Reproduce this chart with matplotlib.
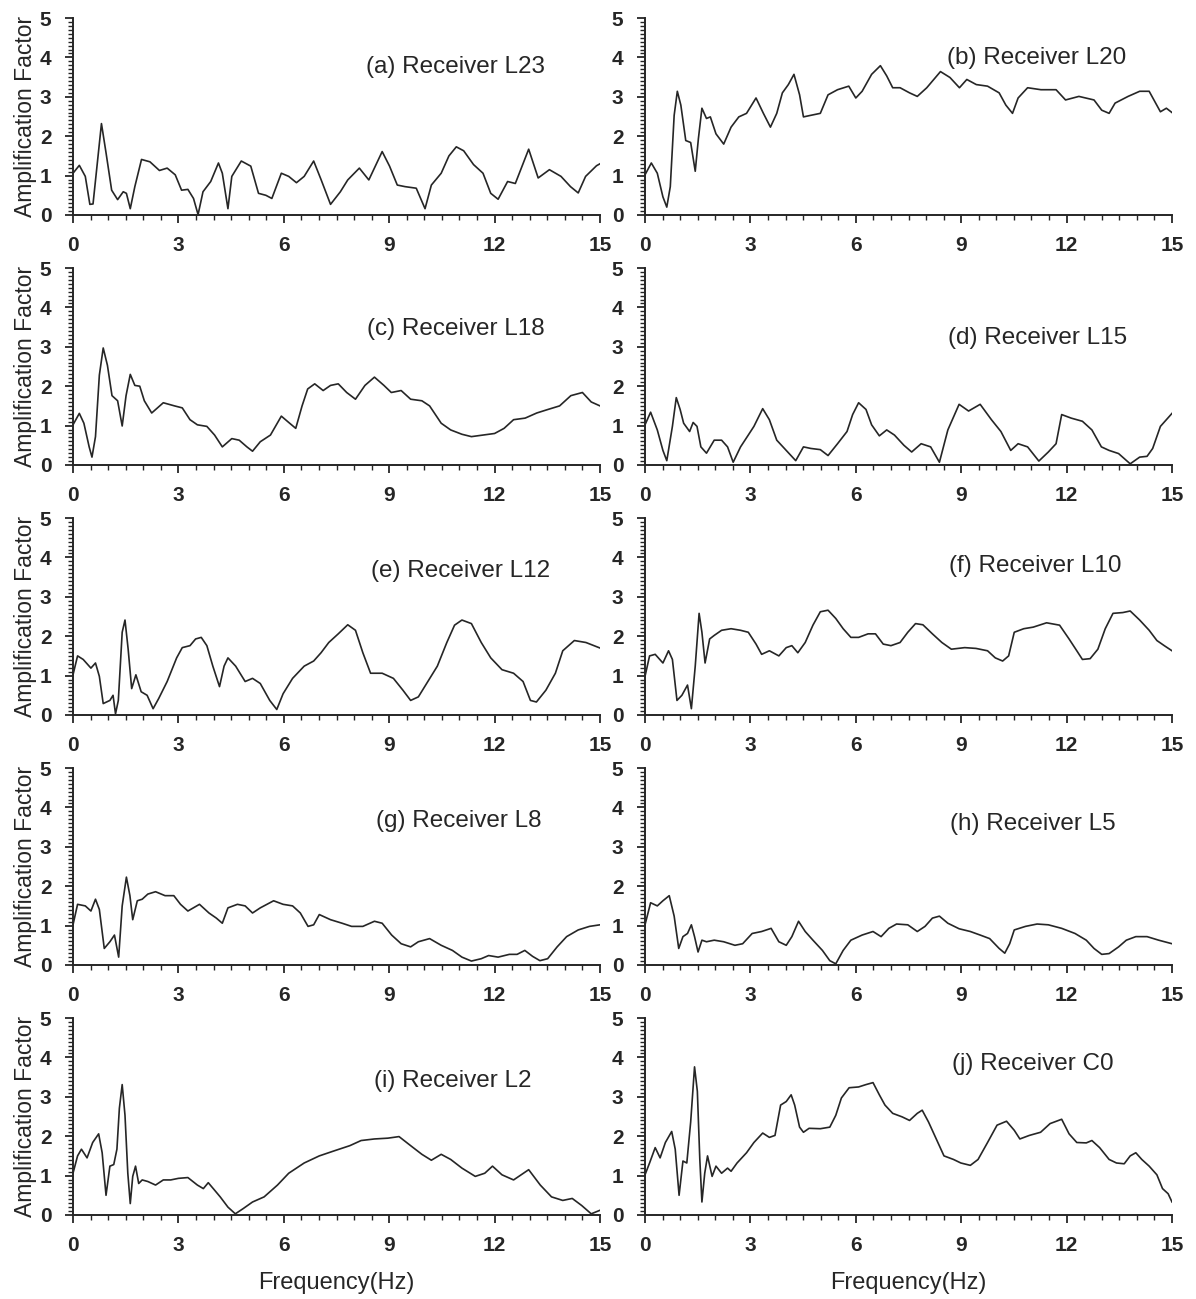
import matplotlib.pyplot as plt
from matplotlib.ticker import MultipleLocator

plt.rcParams['font.family'] = ['Liberation Sans', 'DejaVu Sans']

# amplification spectra, frequency in Hz
freq_a = [0, 0.18, 0.35, 0.48, 0.57, 0.81, 0.94, 1.1, 1.27, 1.43, 1.52, 1.63, 1.76, 1.95, 2.19, 2.46, 2.68, 2.91, 3.09, 3.27,
          3.43, 3.56, 3.7, 3.92, 4.14, 4.25, 4.41, 4.52, 4.79, 5.06, 5.28, 5.49, 5.66, 5.93, 6.14, 6.36, 6.58, 6.85, 7.06, 7.33,
          7.61, 7.82, 8.15, 8.42, 8.8, 9.01, 9.23, 9.45, 9.77, 10.02, 10.2, 10.48, 10.7, 10.91, 11.12, 11.4, 11.67, 11.89, 12.1, 12.37,
          12.59, 12.97, 13.24, 13.56, 13.89, 14.16, 14.38, 14.59, 14.9, 15]
amp_a = [1.06, 1.26, 0.98, 0.27, 0.28, 2.32, 1.58, 0.63, 0.39, 0.59, 0.55, 0.16, 0.72, 1.41, 1.35, 1.13, 1.19, 1.02, 0.63, 0.65,
         0.42, 0.01, 0.59, 0.85, 1.32, 1.06, 0.16, 0.98, 1.37, 1.24, 0.55, 0.5, 0.42, 1.06, 0.98, 0.82, 0.98, 1.37, 0.9, 0.27,
         0.59, 0.89, 1.19, 0.89, 1.61, 1.24, 0.76, 0.72, 0.68, 0.16, 0.76, 1.06, 1.5, 1.73, 1.63, 1.28, 1.06, 0.55, 0.4, 0.85,
         0.8, 1.67, 0.94, 1.15, 0.98, 0.72, 0.56, 0.98, 1.25, 1.3]

freq_b = [0, 0.18, 0.35, 0.51, 0.62, 0.72, 0.83, 0.92, 1.02, 1.16, 1.3, 1.43, 1.52, 1.62, 1.75, 1.86, 2.02, 2.24, 2.45, 2.67,
          2.89, 3.16, 3.37, 3.57, 3.75, 3.91, 4.08, 4.24, 4.4, 4.51, 4.72, 4.99, 5.21, 5.48, 5.8, 6.0, 6.18, 6.45, 6.7, 6.88,
          7.05, 7.26, 7.53, 7.75, 8.02, 8.41, 8.68, 8.95, 9.16, 9.43, 9.75, 10.08, 10.27, 10.46, 10.62, 10.89, 11.27, 11.7, 11.97, 12.35,
          12.78, 13.0, 13.21, 13.38, 13.75, 14.08, 14.35, 14.51, 14.67, 14.84, 15]
amp_b = [1.02, 1.32, 1.06, 0.46, 0.2, 0.72, 2.53, 3.14, 2.79, 1.89, 1.84, 1.11, 1.94, 2.71, 2.45, 2.49, 2.06, 1.8, 2.23, 2.49,
         2.58, 2.97, 2.58, 2.23, 2.58, 3.1, 3.31, 3.57, 3.05, 2.49, 2.53, 2.58, 3.05, 3.18, 3.27, 2.97, 3.14, 3.57, 3.79, 3.53,
         3.23, 3.23, 3.1, 3.01, 3.23, 3.64, 3.49, 3.23, 3.44, 3.31, 3.27, 3.1, 2.79, 2.58, 2.97, 3.23, 3.18, 3.18, 2.92, 3.01,
         2.92, 2.66, 2.58, 2.84, 3.01, 3.14, 3.14, 2.88, 2.62, 2.71, 2.6]

freq_c = [0, 0.18, 0.31, 0.46, 0.54, 0.64, 0.75, 0.86, 0.98, 1.11, 1.27, 1.4, 1.51, 1.63, 1.76, 1.9, 2.03, 2.24, 2.57, 2.89,
          3.11, 3.33, 3.54, 3.81, 4.03, 4.25, 4.52, 4.73, 4.95, 5.11, 5.33, 5.62, 5.93, 6.14, 6.34, 6.52, 6.68, 6.88, 7.12, 7.33,
          7.55, 7.79, 8.04, 8.31, 8.58, 8.85, 9.06, 9.34, 9.61, 9.93, 10.15, 10.48, 10.75, 11.07, 11.34, 11.67, 12.0, 12.27, 12.54, 12.87,
          13.2, 13.52, 13.85, 14.17, 14.5, 14.75, 15]
amp_c = [1.02, 1.31, 1.06, 0.46, 0.2, 0.72, 2.28, 2.97, 2.53, 1.76, 1.63, 0.99, 1.76, 2.3, 2.02, 2.0, 1.63, 1.32, 1.58, 1.5,
         1.45, 1.15, 1.02, 0.98, 0.76, 0.46, 0.67, 0.63, 0.46, 0.35, 0.59, 0.76, 1.24, 1.08, 0.93, 1.5, 1.93, 2.06, 1.89, 2.02,
         2.06, 1.84, 1.67, 2.02, 2.23, 2.02, 1.84, 1.89, 1.67, 1.63, 1.5, 1.06, 0.89, 0.78, 0.72, 0.76, 0.8, 0.93, 1.15, 1.19,
         1.32, 1.41, 1.5, 1.76, 1.84, 1.6, 1.5]

freq_d = [0, 0.16, 0.35, 0.51, 0.62, 0.78, 0.89, 1.0, 1.1, 1.27, 1.37, 1.48, 1.59, 1.75, 1.97, 2.18, 2.35, 2.51, 2.72, 2.94,
          3.1, 3.35, 3.54, 3.75, 4.02, 4.29, 4.51, 4.72, 4.99, 5.21, 5.48, 5.75, 5.91, 6.08, 6.29, 6.45, 6.67, 6.88, 7.1, 7.37,
          7.59, 7.86, 8.13, 8.38, 8.62, 8.94, 9.21, 9.54, 9.86, 10.13, 10.41, 10.62, 10.89, 11.21, 11.48, 11.7, 11.86, 12.13, 12.45, 12.72,
          12.99, 13.21, 13.48, 13.81, 14.08, 14.29, 14.45, 14.67, 15]
amp_d = [1.02, 1.34, 0.89, 0.37, 0.11, 0.98, 1.71, 1.41, 1.06, 0.85, 1.08, 0.98, 0.46, 0.3, 0.63, 0.63, 0.46, 0.07, 0.46, 0.76,
         0.98, 1.43, 1.15, 0.63, 0.37, 0.11, 0.46, 0.42, 0.39, 0.24, 0.54, 0.85, 1.28, 1.58, 1.41, 1.02, 0.74, 0.89, 0.76, 0.5,
         0.33, 0.54, 0.46, 0.07, 0.89, 1.54, 1.37, 1.54, 1.15, 0.85, 0.37, 0.54, 0.46, 0.1, 0.33, 0.54, 1.28, 1.19, 1.11, 0.89,
         0.46, 0.37, 0.29, 0.03, 0.2, 0.22, 0.42, 0.98, 1.31]

freq_e = [0, 0.13, 0.29, 0.51, 0.64, 0.75, 0.86, 1.05, 1.14, 1.21, 1.29, 1.4, 1.48, 1.57, 1.67, 1.79, 1.94, 2.11, 2.28, 2.44,
          2.68, 2.95, 3.11, 3.33, 3.49, 3.65, 3.81, 3.98, 4.17, 4.3, 4.41, 4.63, 4.9, 5.11, 5.33, 5.6, 5.8, 5.98, 6.25, 6.58,
          6.85, 7.06, 7.28, 7.55, 7.82, 8.04, 8.25, 8.47, 8.8, 9.12, 9.39, 9.61, 9.83, 10.1, 10.37, 10.64, 10.86, 11.07, 11.34, 11.62,
          11.89, 12.21, 12.54, 12.81, 13.02, 13.19, 13.46, 13.73, 13.94, 14.27, 14.6, 15]
amp_e = [1.02, 1.5, 1.41, 1.19, 1.32, 0.98, 0.29, 0.37, 0.5, 0.03, 0.37, 2.1, 2.41, 1.67, 0.67, 1.02, 0.59, 0.5, 0.16, 0.42,
         0.85, 1.45, 1.71, 1.76, 1.93, 1.97, 1.76, 1.24, 0.72, 1.24, 1.45, 1.24, 0.85, 0.93, 0.8, 0.37, 0.14, 0.54, 0.93, 1.24,
         1.37, 1.58, 1.84, 2.06, 2.29, 2.15, 1.58, 1.06, 1.06, 0.93, 0.63, 0.37, 0.46, 0.85, 1.24, 1.84, 2.28, 2.41, 2.32, 1.84,
         1.45, 1.15, 1.06, 0.85, 0.37, 0.33, 0.63, 1.06, 1.63, 1.89, 1.84, 1.7]

freq_f = [0, 0.13, 0.29, 0.51, 0.67, 0.78, 0.91, 1.05, 1.21, 1.32, 1.43, 1.54, 1.62, 1.71, 1.84, 1.97, 2.18, 2.45, 2.72, 2.94,
          3.16, 3.32, 3.54, 3.81, 4.02, 4.18, 4.35, 4.56, 4.78, 4.99, 5.21, 5.43, 5.64, 5.86, 6.08, 6.35, 6.56, 6.78, 7.0, 7.26,
          7.48, 7.7, 7.91, 8.18, 8.45, 8.72, 9.1, 9.42, 9.75, 9.97, 10.18, 10.35, 10.51, 10.78, 11.05, 11.43, 11.8, 12.07, 12.29, 12.45,
          12.67, 12.89, 13.1, 13.32, 13.6, 13.81, 14.08, 14.35, 14.57, 14.78, 15]
amp_f = [0.98, 1.5, 1.54, 1.32, 1.63, 1.41, 0.37, 0.5, 0.76, 0.16, 1.24, 2.58, 2.1, 1.32, 1.93, 2.02, 2.15, 2.19, 2.15, 2.1,
         1.8, 1.54, 1.63, 1.5, 1.71, 1.76, 1.58, 1.84, 2.28, 2.62, 2.66, 2.45, 2.19, 1.97, 1.97, 2.06, 2.06, 1.8, 1.76, 1.84,
         2.1, 2.32, 2.29, 2.06, 1.84, 1.67, 1.71, 1.69, 1.63, 1.45, 1.37, 1.5, 2.1, 2.19, 2.23, 2.34, 2.28, 1.93, 1.63, 1.41,
         1.43, 1.67, 2.19, 2.58, 2.6, 2.64, 2.41, 2.15, 1.89, 1.76, 1.63]

freq_g = [0, 0.13, 0.35, 0.51, 0.64, 0.75, 0.89, 1.05, 1.18, 1.3, 1.4, 1.52, 1.62, 1.7, 1.83, 1.97, 2.13, 2.35, 2.62, 2.87,
          3.06, 3.27, 3.6, 3.87, 4.08, 4.25, 4.41, 4.68, 4.9, 5.11, 5.33, 5.71, 5.98, 6.25, 6.47, 6.69, 6.85, 7.01, 7.33, 7.66,
          7.93, 8.25, 8.58, 8.8, 9.07, 9.34, 9.61, 9.83, 10.15, 10.48, 10.8, 11.07, 11.34, 11.62, 11.83, 12.1, 12.42, 12.64, 12.86, 13.08,
          13.29, 13.51, 13.78, 14.05, 14.38, 14.7, 15]
amp_g = [1.02, 1.54, 1.5, 1.37, 1.67, 1.41, 0.42, 0.59, 0.76, 0.2, 1.5, 2.23, 1.76, 1.15, 1.63, 1.67, 1.8, 1.86, 1.76, 1.76,
         1.54, 1.37, 1.54, 1.32, 1.19, 1.06, 1.45, 1.54, 1.5, 1.32, 1.45, 1.63, 1.54, 1.5, 1.32, 0.98, 1.02, 1.28, 1.15, 1.06,
         0.98, 0.98, 1.11, 1.06, 0.76, 0.54, 0.46, 0.59, 0.67, 0.5, 0.37, 0.2, 0.1, 0.16, 0.24, 0.2, 0.27, 0.27, 0.37, 0.22,
         0.11, 0.16, 0.46, 0.72, 0.89, 0.98, 1.02]

freq_h = [0, 0.16, 0.35, 0.51, 0.69, 0.83, 0.96, 1.08, 1.21, 1.32, 1.41, 1.51, 1.62, 1.75, 1.97, 2.24, 2.56, 2.78, 3.05, 3.32,
          3.59, 3.81, 4.02, 4.18, 4.37, 4.56, 4.78, 5.05, 5.26, 5.43, 5.64, 5.86, 6.18, 6.49, 6.72, 6.94, 7.16, 7.48, 7.75, 7.97,
          8.18, 8.38, 8.62, 8.94, 9.26, 9.54, 9.81, 10.08, 10.24, 10.38, 10.51, 10.83, 11.16, 11.48, 11.86, 12.24, 12.56, 12.78, 13.0, 13.21,
          13.48, 13.7, 13.97, 14.29, 14.62, 15]
amp_h = [1.02, 1.58, 1.5, 1.63, 1.76, 1.24, 0.42, 0.72, 0.8, 1.02, 0.72, 0.33, 0.63, 0.59, 0.63, 0.59, 0.5, 0.54, 0.8, 0.85,
         0.93, 0.59, 0.5, 0.72, 1.11, 0.85, 0.63, 0.37, 0.11, 0.03, 0.37, 0.63, 0.76, 0.85, 0.72, 0.93, 1.04, 1.02, 0.85, 0.98,
         1.19, 1.24, 1.06, 0.92, 0.85, 0.76, 0.67, 0.42, 0.3, 0.54, 0.89, 0.98, 1.04, 1.02, 0.93, 0.8, 0.63, 0.42, 0.27, 0.29,
         0.46, 0.63, 0.72, 0.72, 0.63, 0.54]

freq_i = [0, 0.13, 0.24, 0.4, 0.56, 0.73, 0.83, 0.94, 1.05, 1.16, 1.25, 1.32, 1.4, 1.48, 1.56, 1.63, 1.7, 1.78, 1.87, 1.97,
          2.13, 2.35, 2.57, 2.78, 3.0, 3.27, 3.54, 3.71, 3.85, 4.03, 4.19, 4.41, 4.62, 4.84, 5.11, 5.44, 5.82, 6.14, 6.58, 7.01,
          7.44, 7.88, 8.2, 8.58, 8.96, 9.28, 9.61, 9.93, 10.2, 10.48, 10.75, 11.07, 11.45, 11.72, 11.94, 12.21, 12.54, 12.97, 13.3, 13.62,
          13.94, 14.21, 14.48, 14.75, 15]
amp_i = [1.06, 1.5, 1.67, 1.45, 1.84, 2.06, 1.58, 0.5, 1.24, 1.28, 1.67, 2.71, 3.31, 2.53, 1.06, 0.29, 0.98, 1.24, 0.8, 0.89,
         0.85, 0.76, 0.89, 0.89, 0.93, 0.95, 0.76, 0.67, 0.82, 0.63, 0.46, 0.2, 0.03, 0.16, 0.33, 0.46, 0.76, 1.06, 1.32, 1.5,
         1.63, 1.76, 1.89, 1.93, 1.95, 1.99, 1.76, 1.54, 1.39, 1.54, 1.41, 1.19, 0.98, 1.06, 1.24, 1.02, 0.89, 1.15, 0.76, 0.46,
         0.37, 0.42, 0.24, 0.03, 0.12]

freq_j = [0, 0.13, 0.29, 0.43, 0.58, 0.76, 0.86, 0.97, 1.08, 1.19, 1.3, 1.41, 1.49, 1.56, 1.62, 1.7, 1.78, 1.91, 2.02, 2.18,
          2.35, 2.45, 2.62, 2.89, 3.1, 3.35, 3.54, 3.7, 3.86, 4.02, 4.16, 4.26, 4.4, 4.51, 4.67, 4.99, 5.26, 5.43, 5.59, 5.81,
          6.08, 6.29, 6.49, 6.67, 6.83, 7.05, 7.32, 7.53, 7.75, 7.89, 8.07, 8.29, 8.51, 8.78, 8.99, 9.26, 9.48, 9.75, 10.02, 10.29,
          10.51, 10.67, 10.94, 11.26, 11.53, 11.86, 12.07, 12.29, 12.56, 12.72, 12.94, 13.21, 13.42, 13.64, 13.81, 13.97, 14.14, 14.35, 14.57, 14.73,
          14.89, 15]
amp_j = [1.02, 1.32, 1.71, 1.45, 1.84, 2.12, 1.67, 0.5, 1.37, 1.32, 2.36, 3.76, 3.14, 1.41, 0.33, 1.06, 1.5, 0.98, 1.24, 1.06,
         1.19, 1.11, 1.32, 1.58, 1.84, 2.08, 1.97, 2.02, 2.79, 2.88, 3.05, 2.79, 2.23, 2.1, 2.2, 2.19, 2.23, 2.53, 2.97, 3.23,
         3.25, 3.31, 3.36, 3.05, 2.79, 2.58, 2.49, 2.4, 2.58, 2.66, 2.36, 1.93, 1.5, 1.41, 1.32, 1.26, 1.41, 1.84, 2.28, 2.38,
         2.15, 1.93, 2.02, 2.1, 2.32, 2.43, 2.06, 1.84, 1.83, 1.89, 1.71, 1.41, 1.32, 1.3, 1.5, 1.58, 1.41, 1.24, 1.02, 0.67,
         0.54, 0.33]

titles = ['(a) Receiver L23', '(b) Receiver L20', '(c) Receiver L18', '(d) Receiver L15', '(e) Receiver L12',
          '(f) Receiver L10', '(g) Receiver L8', '(h) Receiver L5', '(i) Receiver L2', '(j) Receiver C0']
series = [(freq_a, amp_a), (freq_b, amp_b), (freq_c, amp_c), (freq_d, amp_d), (freq_e, amp_e),
          (freq_f, amp_f), (freq_g, amp_g), (freq_h, amp_h), (freq_i, amp_i), (freq_j, amp_j)]

# where each receiver name sits, in data units
title_pos = [(10.88, 3.75), (11.16, 3.98), (10.91, 3.44), (11.18, 3.23), (11.04, 3.66),
             (11.12, 3.79), (10.99, 3.66), (11.05, 3.57), (10.8, 3.4), (11.05, 3.83)]

W, H = 1196, 1299
fig = plt.figure(figsize=(W / 100, H / 100), dpi=100)
ink = '#262626'

for i, (f, a) in enumerate(series):
    row, col = divmod(i, 2)
    left = (73 if col == 0 else 645) / W
    bottom = (H - 215 - 250 * row) / H
    ax = fig.add_axes([left, bottom, 527 / W, 197 / H])
    ax.plot(f, a, color=ink, lw=1.2)
    ax.set_xlim(0, 15)
    ax.set_ylim(0, 5)
    ax.set_xticks(range(0, 16, 3))
    ax.set_yticks(range(0, 6))
    ax.xaxis.set_minor_locator(MultipleLocator(0.5))
    ax.yaxis.set_minor_locator(MultipleLocator(0.1))
    for s in ['top', 'right']:
        ax.spines[s].set_visible(False)
    for s in ['left', 'bottom']:
        ax.spines[s].set_linewidth(1.4)
        ax.spines[s].set_color(ink)
    ax.tick_params(which='major', length=6, width=1.3, colors=ink, labelsize=15)
    ax.tick_params(which='minor', length=3.5, width=1.0, colors=ink)
    ax.tick_params(axis='x', which='major', pad=9)
    ax.tick_params(axis='y', which='major', pad=9.5)
    for lbl in ax.get_xticklabels() + ax.get_yticklabels():
        lbl.set_fontweight('bold')
    tx, ty = title_pos[i]
    ax.text(tx, ty, titles[i], ha='center', va='center', fontsize=17.5, color=ink)
    if col == 0:
        ax.set_ylabel('Amplification Factor', fontsize=16.5, color=ink)
        ax.yaxis.set_label_coords(-0.091, 0.5)
        ax.yaxis.label.set_verticalalignment('center')
    if row == 4:
        ax.set_xlabel('Frequency(Hz)', fontsize=17, color=ink)
        ax.xaxis.set_label_coords(0.5, -0.345)
        ax.xaxis.label.set_verticalalignment('center')

fig.savefig('out.png', dpi=100, facecolor='white')
